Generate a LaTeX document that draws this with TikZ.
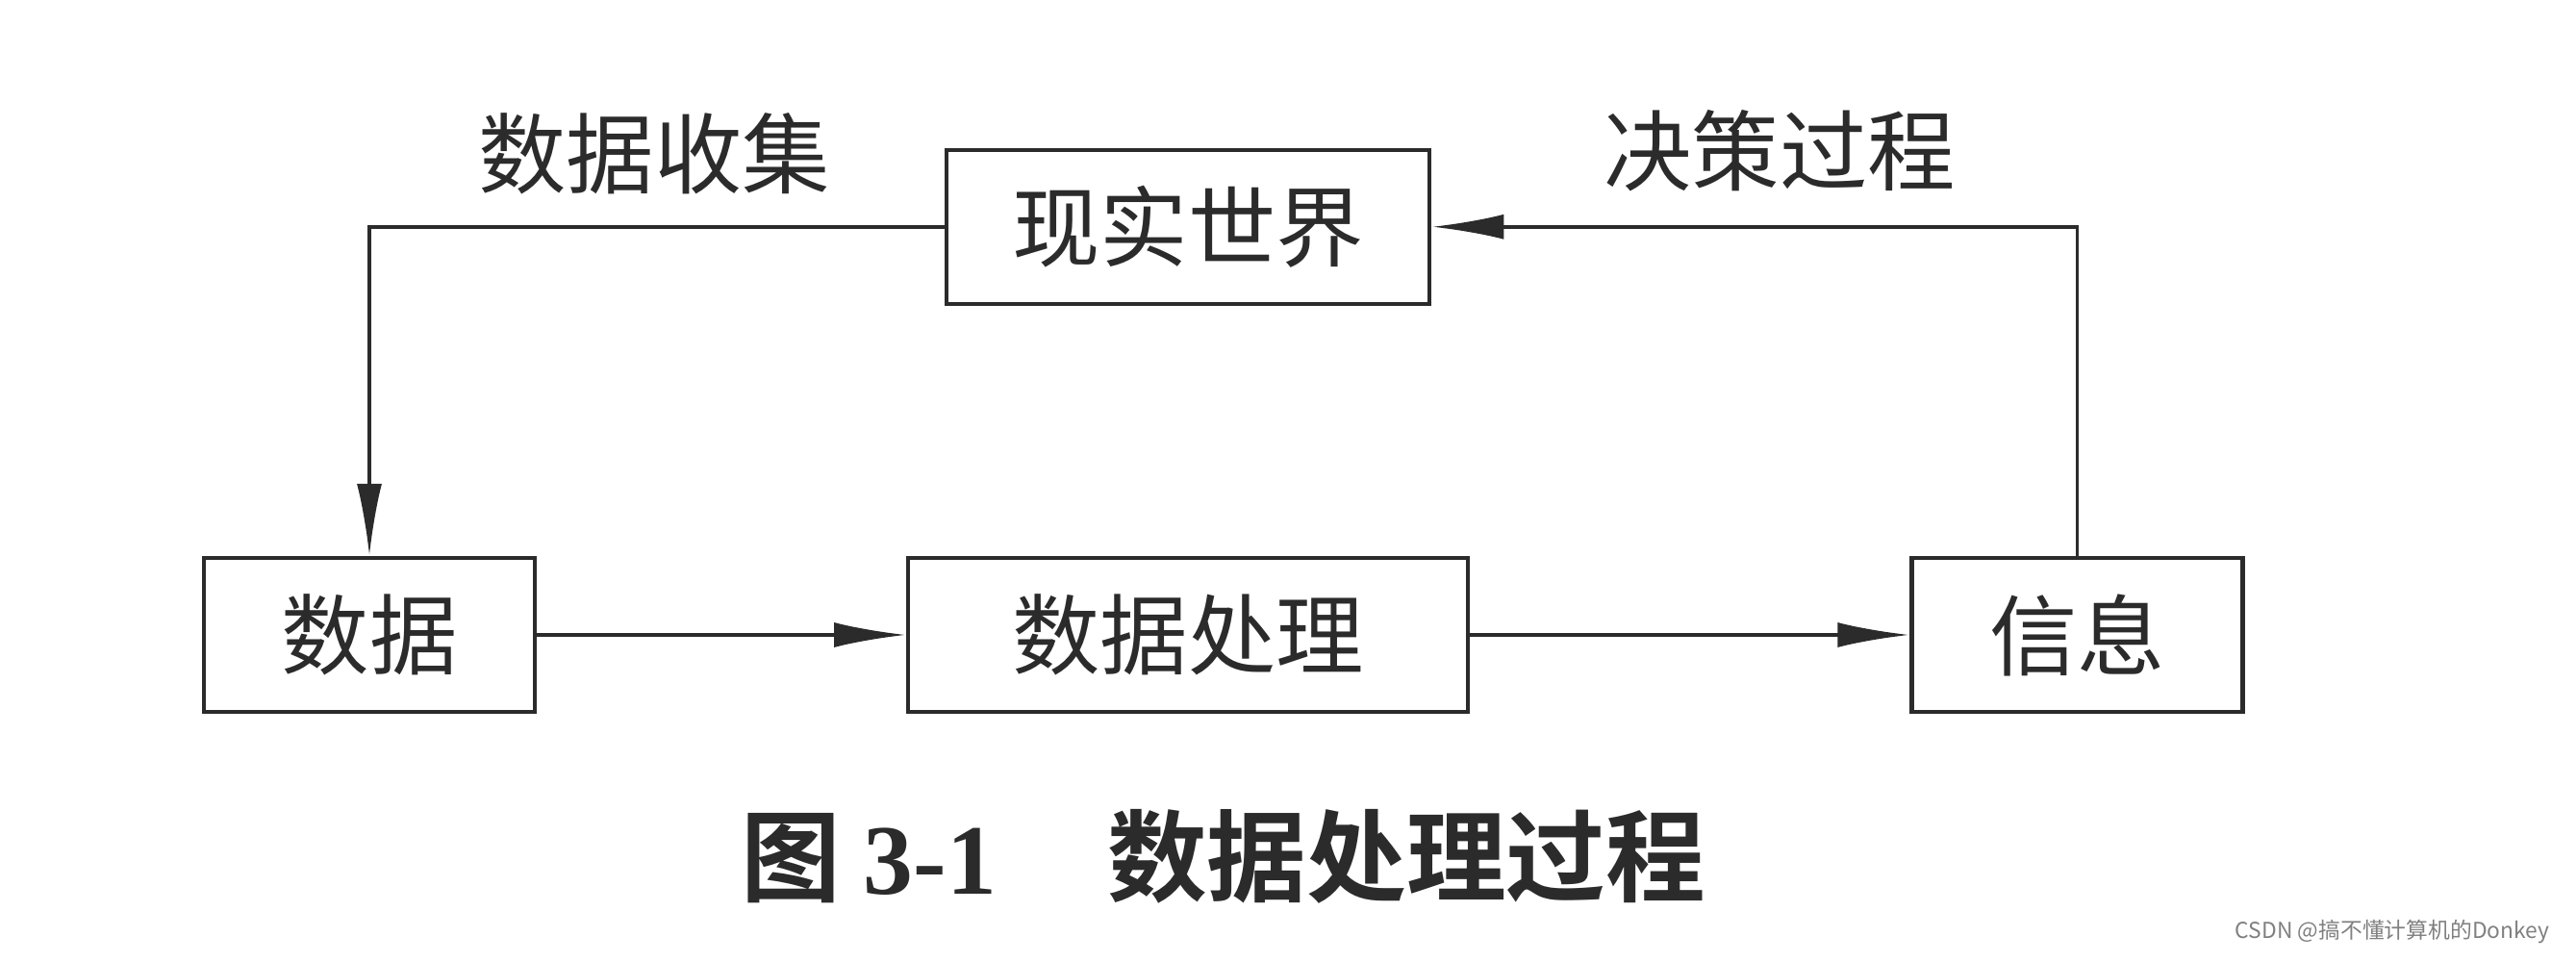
\documentclass[tikz,border=0pt]{standalone}
\usepackage{fontspec}
\usepackage{xcolor}
\usepackage{tikz}
\usetikzlibrary{arrows.meta, positioning}
\newfontfamily\cjk{Noto Sans CJK SC}
\newfontfamily\cjkbold{Noto Sans CJK SC Bold}
\newfontfamily\capnum{Liberation Serif}
\definecolor{ink}{HTML}{2B2B2B}

\begin{document}
\begin{tikzpicture}
	[
		box/.style={draw=ink, line width=1.2pt, minimum height=1.6cm, inner sep=0pt, text=ink, font=\cjk\fontsize{26}{30}\selectfont},
		flow/.style={draw=ink, line width=1.1pt, -{Latex[length=7.5mm,width=2.6mm]}},
		tag/.style={text=ink, font=\cjk\fontsize{26}{30}\selectfont}
	]
		\useasboundingbox (0,0) rectangle (26.78,10);
		\node[box, minimum width=3.44cm] (data) at (3.84,3.40) {数据};
		\node[box, minimum width=5.82cm, right=3.84cm of data] (proc) {数据处理};
		\node[box, minimum width=3.44cm, right=4.57cm of proc] (info) {信息};
		\node[box, minimum width=5.02cm, above=2.60cm of proc] (world) {现实世界};
		\node[tag] (collect) at (6.80,8.40) {数据收集};
		\node[tag] (decide) at (18.50,8.43) {决策过程};
		\draw[flow] (world.west) -| (data.north);
		\draw[flow] (data) -- (proc);
		\draw[flow] (proc) -- (info);
		\draw[flow] (info.north) |- (world.east);
		\node[text=ink] (caption) at (12.72,1.10)
			{\cjkbold\fontsize{29.5}{34}\selectfont 图 {\capnum\bfseries 3-1}\hspace{1.15cm}数据处理过程};
		\node[anchor=east, text=gray] (mark) at (26.63,0.31)
			{\cjk\fontsize{6.5}{8}\selectfont CSDN @搞不懂计算机的Donkey};
\end{tikzpicture}
\end{document}
